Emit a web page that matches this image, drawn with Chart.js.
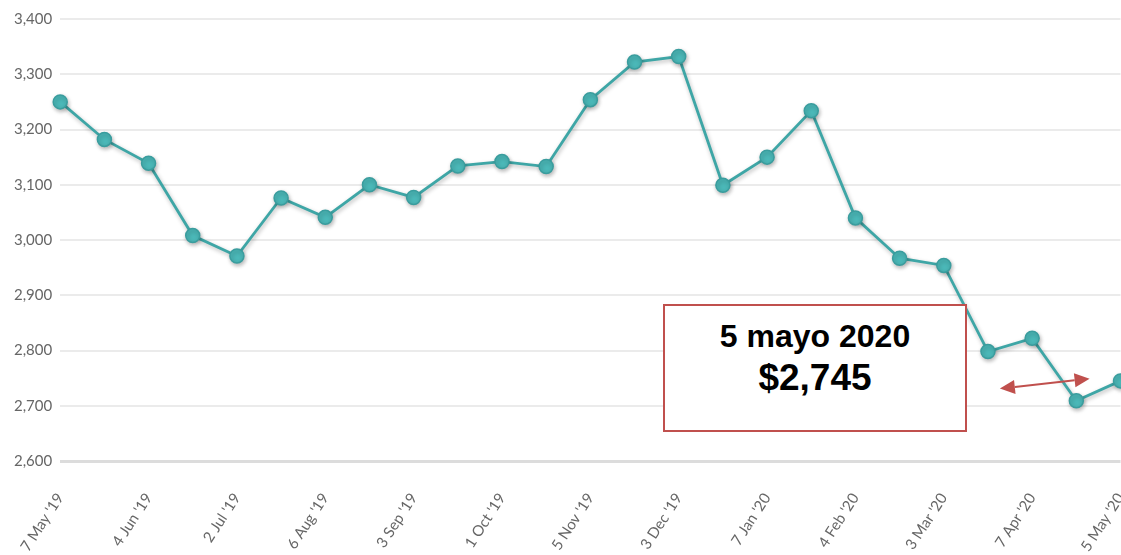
<!DOCTYPE html>
<html>
<head>
<meta charset="utf-8">
<script src="https://cdn.jsdelivr.net/npm/chart.js@4"></script>
<style>
  html, body { margin: 0; padding: 0; background: #fff; overflow: hidden; }
  #wrap { position: relative; width: 1129px; height: 555px; }
  #note {
    position: absolute; left: 663px; top: 304px; width: 300px; height: 124px;
    border: 2px solid #c0504d; background: #fff;
    font-family: "Liberation Sans", Arial, sans-serif; font-weight: bold; color: #000;
    text-align: center;
  }
  #note .d { font-size: 32px; margin-top: 11px; line-height: 38px; }
  #note .p { font-size: 37px; line-height: 42px; margin-top: 2px; }
</style>
</head>
<body>
<div id="wrap">
  <canvas id="priceChart"></canvas>
  <div id="note"><div class="d">5 mayo 2020</div><div class="p">$2,745</div></div>
</div>
<script>
const dates = ["7 May '19", "21 May '19", "4 Jun '19", "18 Jun '19", "2 Jul '19", "16 Jul '19",
  "6 Aug '19", "20 Aug '19", "3 Sep '19", "17 Sep '19", "1 Oct '19", "15 Oct '19",
  "5 Nov '19", "19 Nov '19", "3 Dec '19", "17 Dec '19", "7 Jan '20", "21 Jan '20",
  "4 Feb '20", "18 Feb '20", "3 Mar '20", "17 Mar '20", "7 Apr '20", "21 Apr '20", "5 May '20"];
const prices = [3250, 3182, 3139, 3008, 2971, 3076, 3041, 3100, 3077, 3134, 3142, 3133,
  3254, 3322, 3332, 3099, 3150, 3234, 3040, 2967, 2954, 2798, 2822, 2709, 2745];
const yTicks = [2600, 2700, 2800, 2900, 3000, 3100, 3200, 3300, 3400];

// double arrow next to the last points, in data units
const arrowFrom = { x: 21.27, y: 2731 };
const arrowTo = { x: 23.3, y: 2749 };

const shadowPlugin = {
  id: 'shadow',
  beforeDatasetsDraw(chart) {
    const c = chart.ctx;
    c.save();
    c.shadowColor = 'rgba(0,0,0,0.28)';
    c.shadowBlur = 4;
    c.shadowOffsetX = 1;
    c.shadowOffsetY = 2;
  },
  afterDatasetsDraw(chart) {
    chart.ctx.restore();
  }
};

const arrowPlugin = {
  id: 'arrow',
  afterDraw(chart) {
    const c = chart.ctx;
    const xs = chart.scales.x, ys = chart.scales.y;
    const x1 = xs.getPixelForValue(arrowFrom.x), y1 = ys.getPixelForValue(arrowFrom.y);
    const x2 = xs.getPixelForValue(arrowTo.x), y2 = ys.getPixelForValue(arrowTo.y);
    const ang = Math.atan2(y2 - y1, x2 - x1);
    const len = 15, half = 7;
    c.save();
    c.strokeStyle = '#c0504d';
    c.fillStyle = '#c0504d';
    c.lineWidth = 2;
    c.beginPath();
    c.moveTo(x1 + Math.cos(ang) * len, y1 + Math.sin(ang) * len);
    c.lineTo(x2 - Math.cos(ang) * len, y2 - Math.sin(ang) * len);
    c.stroke();
    [[x2, y2, ang], [x1, y1, ang + Math.PI]].forEach(([px, py, a]) => {
      c.beginPath();
      c.moveTo(px, py);
      c.lineTo(px - Math.cos(a) * len - Math.sin(a) * half, py - Math.sin(a) * len + Math.cos(a) * half);
      c.lineTo(px - Math.cos(a) * len + Math.sin(a) * half, py - Math.sin(a) * len - Math.cos(a) * half);
      c.closePath();
      c.fill();
    });
    c.restore();
  }
};

const ctx = document.getElementById('priceChart').getContext('2d');
const priceChart = new Chart(ctx, {
  type: 'line',
  data: {
    labels: dates,
    datasets: [{
      label: 'Precio',
      data: prices,
      borderColor: '#3ea6a6',
      borderWidth: 2.8,
      pointRadius: 7,
      pointBackgroundColor: '#4bb8b8',
      pointBorderColor: '#3a9d9e',
      pointBorderWidth: 1.5,
      tension: 0,
      clip: false
    }]
  },
  options: {
    responsive: true,
    maintainAspectRatio: false,
    animation: false,
    layout: { padding: { top: 19, left: 6, right: 0, bottom: 0 } },
    plugins: {
      legend: { display: false },
      tooltip: { enabled: false }
    },
    scales: {
      x: {
        grid: { display: false },
        border: { display: false },
        ticks: {
          autoSkip: false,
          minRotation: 57,
          maxRotation: 57,
          color: '#666',
          padding: 21,
          font: { family: 'Lato', size: 15 },
          callback: (v, i) => (i % 2 === 0 ? dates[i] : '')
        },
        afterFit(scale) {
          scale.paddingRight = 0;
          scale.height = 94;
        }
      },
      y: {
        min: 2600,
        max: 3400,
        border: { display: false },
        afterBuildTicks(scale) { scale.ticks = yTicks.map(v => ({ value: v })); },
        grid: {
          color: c => (c.tick && c.tick.value === 2600 ? '#dcdcdc' : '#ebebeb'),
          lineWidth: c => (c.tick && c.tick.value === 2600 ? 3 : 2),
          drawTicks: false
        },
        ticks: {
          color: '#666',
          padding: 8,
          font: { family: 'Lato', size: 15 },
          callback: v => v.toLocaleString('en-US')
        }
      }
    }
  },
  plugins: [shadowPlugin, arrowPlugin]
});
</script>
</body>
</html>
